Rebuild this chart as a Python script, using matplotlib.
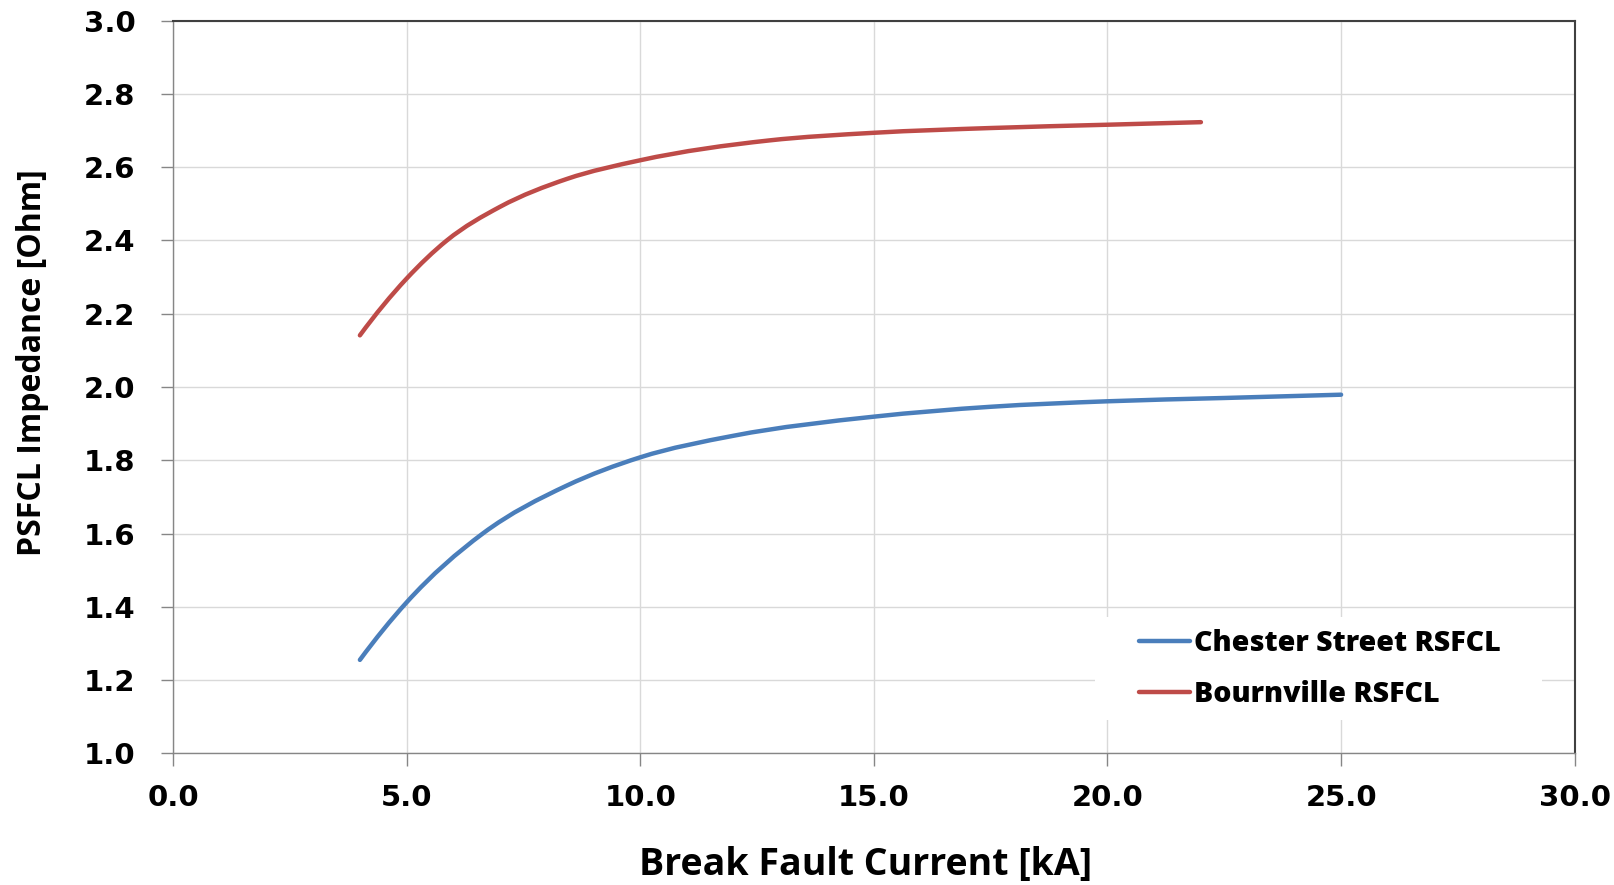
import numpy as np
import matplotlib
matplotlib.use("Agg")
import matplotlib.pyplot as plt
from matplotlib.patches import Rectangle, PathPatch
from matplotlib.path import Path
from matplotlib.lines import Line2D

# values
chester_current = [4.0, 5.0, 6.63, 8.43, 10.0, 12.0, 15.0, 17.5, 20.0, 22.5, 25.0]
chester_impedance = [1.255, 1.412, 1.600, 1.731, 1.808, 1.867, 1.919, 1.946, 1.961, 1.970, 1.979]

bournville_current = [4.0, 5.0, 5.86, 7.0, 8.43, 10.0, 12.75, 15.0, 17.5, 20.0, 22.0]
bournville_impedance = [2.141, 2.296, 2.400, 2.492, 2.568, 2.619, 2.673, 2.694, 2.707, 2.716, 2.723]

series_labels = ["Chester Street RSFCL", "Bournville RSFCL"]
series_colors = ["#4a7ebb", "#be4b48"]
x_ticks = [0, 5, 10, 15, 20, 25, 30]
y_ticks = [1.0, 1.2, 1.4, 1.6, 1.8, 2.0, 2.2, 2.4, 2.6, 2.8, 3.0]


def smooth_path(xs, ys):
    # smoothed line like Excel's: cubic Bezier segments through the points,
    # slopes taken from the parabola through each point and its neighbours
    x = np.asarray(xs, float)
    y = np.asarray(ys, float)
    n = len(x)
    h = np.diff(x)
    s = np.diff(y) / h
    d = np.zeros(n)
    for i in range(1, n - 1):
        d[i] = (h[i - 1] * s[i] + h[i] * s[i - 1]) / (h[i - 1] + h[i])
    d[0] = s[0] + (s[0] - s[1]) * h[0] / (h[0] + h[1])
    d[-1] = s[-1] + (s[-1] - s[-2]) * h[-1] / (h[-1] + h[-2])
    verts = [(x[0], y[0])]
    codes = [Path.MOVETO]
    for i in range(n - 1):
        k = h[i] / 3
        verts += [(x[i] + k, y[i] + d[i] * k), (x[i + 1] - k, y[i + 1] - d[i + 1] * k), (x[i + 1], y[i + 1])]
        codes += [Path.CURVE4] * 3
    return Path(verts, codes)


W, H = 1615, 885
fig = plt.figure(figsize=(W / 100, H / 100), dpi=100)
left, right, top, bottom = 173, 1574.7, 20.7, 753.3
ax = fig.add_axes([left / W, 1 - bottom / H, (right - left) / W, (bottom - top) / H])

ax.set_axisbelow(True)
ax.grid(True, color="#d9d9d9", linewidth=1.0)

for xs, ys, col in [(chester_current, chester_impedance, series_colors[0]),
                    (bournville_current, bournville_impedance, series_colors[1])]:
    ax.add_patch(PathPatch(smooth_path(xs, ys), facecolor="none", edgecolor=col,
                           linewidth=3.2, capstyle="round", joinstyle="round", zorder=3))

ax.set_xlim(0, 30)
ax.set_ylim(1.0, 3.0)
ax.set_xticks(x_ticks)
ax.set_yticks(y_ticks)
ax.set_xticklabels(["%.1f" % v for v in x_ticks])
ax.set_yticklabels(["%.1f" % v for v in y_ticks])

tick_font = matplotlib.font_manager.FontProperties(family="DejaVu Sans", weight="bold", size=21)
for lbl in ax.get_xticklabels() + ax.get_yticklabels():
    lbl.set_fontproperties(tick_font)

ax.tick_params(axis="both", direction="out", length=9, width=1.0, color="#868686")
ax.tick_params(axis="y", pad=18)
ax.tick_params(axis="x", pad=13)

for side in ["left", "bottom"]:
    ax.spines[side].set_color("#868686")
    ax.spines[side].set_linewidth(1.0)
for side in ["top", "right"]:
    ax.spines[side].set_color("#404040")
    ax.spines[side].set_linewidth(1.5)

# white box behind the legend, hiding the grid
bx0, bx1, by0, by1 = 1095, 1542, 617, 720
ax.add_patch(Rectangle(((bx0 - left) / (right - left), (bottom - by1) / (bottom - top)),
                       (bx1 - bx0) / (right - left), (by1 - by0) / (bottom - top),
                       transform=ax.transAxes, facecolor="white", edgecolor="none", zorder=1))

handles = [Line2D([], [], color=c, linewidth=3.2, solid_capstyle="round") for c in series_colors]
leg = ax.legend(handles, series_labels, loc="center", bbox_to_anchor=(1320 / W, 1 - 669 / H),
                bbox_transform=fig.transFigure, frameon=False,
                prop={"family": "Open Sans", "weight": "heavy", "size": 20.5},
                handlelength=1.8, handletextpad=0.14, labelspacing=0.75)

fig.text(865.5 / W, 1 - 875 / H, "Break Fault Current [kA]", ha="center", va="baseline",
         family="Open Sans", weight="bold", size=27)
fig.text(33 / W, 1 - 363 / H, "PSFCL Impedance [Ohm]", ha="center", va="center", rotation=90,
         family="Open Sans", weight="bold", size=23)

fig.savefig("out.png", dpi=100)
